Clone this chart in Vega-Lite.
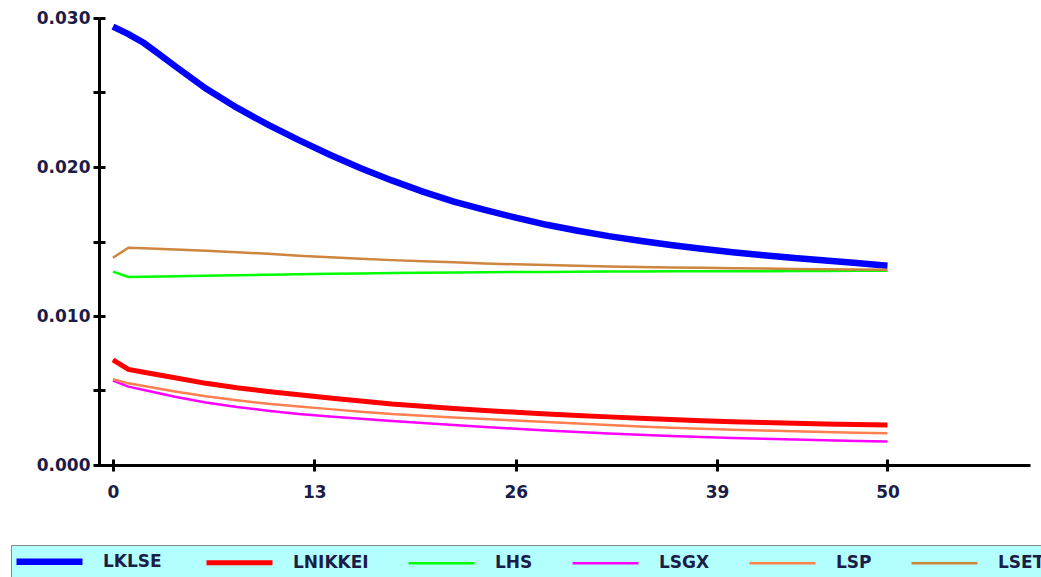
{
  "$schema": "https://vega.github.io/schema/vega-lite/v6.json",
  "autosize": "none",
  "width": 931,
  "height": 447,
  "padding": {"left": 99, "top": 18, "right": 11, "bottom": 112},
  "background": "white",
  "config": {"view": {"stroke": null}},
  "data": {"values": [
    {"t":0,"s":"LKLSE","v":0.02942},{"t":1,"s":"LKLSE","v":0.02892},{"t":2,"s":"LKLSE","v":0.02832},{"t":3,"s":"LKLSE","v":0.02756},{"t":4,"s":"LKLSE","v":0.02678},{"t":6,"s":"LKLSE","v":0.02526},{"t":8,"s":"LKLSE","v":0.02398},{"t":10,"s":"LKLSE","v":0.02284},{"t":12,"s":"LKLSE","v":0.02180},{"t":14,"s":"LKLSE","v":0.02082},{"t":16,"s":"LKLSE","v":0.01992},{"t":18,"s":"LKLSE","v":0.01910},{"t":20,"s":"LKLSE","v":0.01835},{"t":22,"s":"LKLSE","v":0.01768},{"t":24,"s":"LKLSE","v":0.01712},{"t":26,"s":"LKLSE","v":0.01660},{"t":28,"s":"LKLSE","v":0.01612},{"t":30,"s":"LKLSE","v":0.01572},{"t":32,"s":"LKLSE","v":0.01536},{"t":34,"s":"LKLSE","v":0.01505},{"t":36,"s":"LKLSE","v":0.01477},{"t":38,"s":"LKLSE","v":0.01452},{"t":40,"s":"LKLSE","v":0.01428},{"t":42,"s":"LKLSE","v":0.01407},{"t":44,"s":"LKLSE","v":0.01389},{"t":46,"s":"LKLSE","v":0.01372},{"t":48,"s":"LKLSE","v":0.01355},{"t":50,"s":"LKLSE","v":0.01338},
    {"t":0,"s":"LNIKKEI","v":0.00705},{"t":1,"s":"LNIKKEI","v":0.00642},{"t":2,"s":"LNIKKEI","v":0.00622},{"t":4,"s":"LNIKKEI","v":0.00585},{"t":6,"s":"LNIKKEI","v":0.00548},{"t":8,"s":"LNIKKEI","v":0.00518},{"t":10,"s":"LNIKKEI","v":0.00494},{"t":12,"s":"LNIKKEI","v":0.00471},{"t":14,"s":"LNIKKEI","v":0.00450},{"t":16,"s":"LNIKKEI","v":0.00429},{"t":18,"s":"LNIKKEI","v":0.00409},{"t":20,"s":"LNIKKEI","v":0.00394},{"t":22,"s":"LNIKKEI","v":0.00379},{"t":24,"s":"LNIKKEI","v":0.00366},{"t":26,"s":"LNIKKEI","v":0.00354},{"t":28,"s":"LNIKKEI","v":0.00343},{"t":30,"s":"LNIKKEI","v":0.00333},{"t":32,"s":"LNIKKEI","v":0.00323},{"t":34,"s":"LNIKKEI","v":0.00314},{"t":36,"s":"LNIKKEI","v":0.00305},{"t":38,"s":"LNIKKEI","v":0.00297},{"t":40,"s":"LNIKKEI","v":0.00291},{"t":42,"s":"LNIKKEI","v":0.00286},{"t":44,"s":"LNIKKEI","v":0.00281},{"t":46,"s":"LNIKKEI","v":0.00276},{"t":48,"s":"LNIKKEI","v":0.00272},{"t":50,"s":"LNIKKEI","v":0.00268},
    {"t":0,"s":"LHS","v":0.01298},{"t":1,"s":"LHS","v":0.01262},{"t":2,"s":"LHS","v":0.01263},{"t":4,"s":"LHS","v":0.01266},{"t":6,"s":"LHS","v":0.01270},{"t":8,"s":"LHS","v":0.01274},{"t":10,"s":"LHS","v":0.01277},{"t":12,"s":"LHS","v":0.01280},{"t":14,"s":"LHS","v":0.01284},{"t":16,"s":"LHS","v":0.01286},{"t":18,"s":"LHS","v":0.01288},{"t":20,"s":"LHS","v":0.01290},{"t":22,"s":"LHS","v":0.01292},{"t":24,"s":"LHS","v":0.01294},{"t":26,"s":"LHS","v":0.01295},{"t":28,"s":"LHS","v":0.01296},{"t":30,"s":"LHS","v":0.01297},{"t":32,"s":"LHS","v":0.01298},{"t":34,"s":"LHS","v":0.01299},{"t":36,"s":"LHS","v":0.01300},{"t":38,"s":"LHS","v":0.01300},{"t":40,"s":"LHS","v":0.01301},{"t":42,"s":"LHS","v":0.01301},{"t":44,"s":"LHS","v":0.01302},{"t":46,"s":"LHS","v":0.01302},{"t":48,"s":"LHS","v":0.01303},{"t":50,"s":"LHS","v":0.01303},
    {"t":0,"s":"LSGX","v":0.00566},{"t":1,"s":"LSGX","v":0.00526},{"t":2,"s":"LSGX","v":0.00503},{"t":4,"s":"LSGX","v":0.00458},{"t":6,"s":"LSGX","v":0.00420},{"t":8,"s":"LSGX","v":0.00389},{"t":10,"s":"LSGX","v":0.00364},{"t":12,"s":"LSGX","v":0.00343},{"t":14,"s":"LSGX","v":0.00326},{"t":16,"s":"LSGX","v":0.00310},{"t":18,"s":"LSGX","v":0.00295},{"t":20,"s":"LSGX","v":0.00282},{"t":22,"s":"LSGX","v":0.00268},{"t":24,"s":"LSGX","v":0.00255},{"t":26,"s":"LSGX","v":0.00243},{"t":28,"s":"LSGX","v":0.00232},{"t":30,"s":"LSGX","v":0.00221},{"t":32,"s":"LSGX","v":0.00212},{"t":34,"s":"LSGX","v":0.00203},{"t":36,"s":"LSGX","v":0.00195},{"t":38,"s":"LSGX","v":0.00188},{"t":40,"s":"LSGX","v":0.00182},{"t":42,"s":"LSGX","v":0.00176},{"t":44,"s":"LSGX","v":0.00171},{"t":46,"s":"LSGX","v":0.00166},{"t":48,"s":"LSGX","v":0.00161},{"t":50,"s":"LSGX","v":0.00157},
    {"t":0,"s":"LSP","v":0.00575},{"t":1,"s":"LSP","v":0.00548},{"t":2,"s":"LSP","v":0.00530},{"t":4,"s":"LSP","v":0.00494},{"t":6,"s":"LSP","v":0.00461},{"t":8,"s":"LSP","v":0.00434},{"t":10,"s":"LSP","v":0.00411},{"t":12,"s":"LSP","v":0.00392},{"t":14,"s":"LSP","v":0.00375},{"t":16,"s":"LSP","v":0.00358},{"t":18,"s":"LSP","v":0.00342},{"t":20,"s":"LSP","v":0.00331},{"t":22,"s":"LSP","v":0.00319},{"t":24,"s":"LSP","v":0.00308},{"t":26,"s":"LSP","v":0.00298},{"t":28,"s":"LSP","v":0.00288},{"t":30,"s":"LSP","v":0.00279},{"t":32,"s":"LSP","v":0.00268},{"t":34,"s":"LSP","v":0.00259},{"t":36,"s":"LSP","v":0.00250},{"t":38,"s":"LSP","v":0.00243},{"t":40,"s":"LSP","v":0.00237},{"t":42,"s":"LSP","v":0.00231},{"t":44,"s":"LSP","v":0.00226},{"t":46,"s":"LSP","v":0.00221},{"t":48,"s":"LSP","v":0.00217},{"t":50,"s":"LSP","v":0.00213},
    {"t":0,"s":"LSET","v":0.01391},{"t":1,"s":"LSET","v":0.01458},{"t":2,"s":"LSET","v":0.01455},{"t":4,"s":"LSET","v":0.01447},{"t":6,"s":"LSET","v":0.01438},{"t":8,"s":"LSET","v":0.01428},{"t":10,"s":"LSET","v":0.01418},{"t":12,"s":"LSET","v":0.01405},{"t":14,"s":"LSET","v":0.01394},{"t":16,"s":"LSET","v":0.01385},{"t":18,"s":"LSET","v":0.01375},{"t":20,"s":"LSET","v":0.01367},{"t":22,"s":"LSET","v":0.01360},{"t":24,"s":"LSET","v":0.01353},{"t":26,"s":"LSET","v":0.01347},{"t":28,"s":"LSET","v":0.01342},{"t":30,"s":"LSET","v":0.01337},{"t":32,"s":"LSET","v":0.01333},{"t":34,"s":"LSET","v":0.01329},{"t":36,"s":"LSET","v":0.01326},{"t":38,"s":"LSET","v":0.01323},{"t":40,"s":"LSET","v":0.01320},{"t":42,"s":"LSET","v":0.01318},{"t":44,"s":"LSET","v":0.01316},{"t":46,"s":"LSET","v":0.01314},{"t":48,"s":"LSET","v":0.01312},{"t":50,"s":"LSET","v":0.01310}
  ]},
  "layer": [
    {
      "mark": {"type": "line", "strokeOpacity": 0},
      "encoding": {
        "x": {"field": "t", "type": "quantitative", "scale": {"domain": [-0.9, 59.2], "nice": false, "zero": false},
          "axis": {"orient": "bottom", "values": [0, 13, 26, 39, 50], "domain": false, "labels": false, "grid": false, "title": null, "tickSize": -6, "tickWidth": 3, "tickColor": "black"}},
        "y": {"field": "v", "type": "quantitative", "scale": {"domain": [0, 0.03], "nice": false},
          "axis": {"orient": "left", "values": [0, 0.005, 0.01, 0.015, 0.02, 0.025, 0.03], "domain": false, "labels": false, "grid": false, "title": null, "tickSize": -6, "tickWidth": 3, "tickColor": "black"}},
        "detail": {"field": "s", "type": "nominal"}
      }
    },
    {
      "mark": {"type": "line", "interpolate": "linear"},
      "encoding": {
        "x": {"field": "t", "type": "quantitative",
          "axis": {"orient": "bottom", "values": [0, 13, 26, 39, 50], "grid": false, "title": null, "domainColor": "black", "domainWidth": 3, "tickSize": 6, "tickWidth": 3, "tickColor": "black", "labelFont": "DejaVu Sans", "labelFontWeight": "bold", "labelFontSize": 17, "labelColor": "#1c1c48", "labelPadding": 13}},
        "y": {"field": "v", "type": "quantitative",
          "axis": {"orient": "left", "values": [0, 0.005, 0.01, 0.015, 0.02, 0.025, 0.03], "format": ".3f", "labelExpr": "indexof(['0.000','0.010','0.020','0.030'], datum.label) >= 0 ? datum.label : ''", "grid": false, "title": null, "domainColor": "black", "domainWidth": 3, "tickSize": 6, "tickWidth": 3, "tickColor": "black", "labelFont": "DejaVu Sans", "labelFontWeight": "bold", "labelFontSize": 17, "labelColor": "#1c1c48", "labelPadding": 3}},
        "color": {"field": "s", "type": "nominal",
          "scale": {"domain": ["LKLSE", "LNIKKEI", "LHS", "LSGX", "LSP", "LSET"], "range": ["#0000FF", "#FF0000", "#00FF00", "#FF00FF", "#FF7F50", "#CD853F"]},
          "legend": {"title": null, "orient": "none", "legendX": -88, "legendY": 527, "direction": "horizontal", "columns": 6, "symbolType": "M-1,0H5", "symbolSize": 484, "labelOffset": 61, "columnPadding": 34, "padding": 2, "fillColor": "#B3FFFF", "strokeColor": "#888888", "labelFont": "DejaVu Sans", "labelFontSize": 17, "labelFontWeight": "bold", "labelColor": "#1c1c48"}},
        "strokeWidth": {"field": "s", "type": "nominal",
          "scale": {"type": "ordinal", "domain": ["LKLSE", "LNIKKEI", "LHS", "LSGX", "LSP", "LSET"], "range": [6.5, 5, 2.5, 2.5, 2.5, 2.5]},
          "legend": {"title": null, "orient": "none", "legendX": -88, "legendY": 527, "direction": "horizontal", "columns": 6, "symbolType": "M-1,0H5", "symbolSize": 484, "labelOffset": 61, "columnPadding": 34, "padding": 2, "fillColor": "#B3FFFF", "strokeColor": "#888888", "labelFont": "DejaVu Sans", "labelFontSize": 17, "labelFontWeight": "bold", "labelColor": "#1c1c48"}}
      }
    }
  ],
  "resolve": {"axis": {"x": "independent", "y": "independent"}}
}
